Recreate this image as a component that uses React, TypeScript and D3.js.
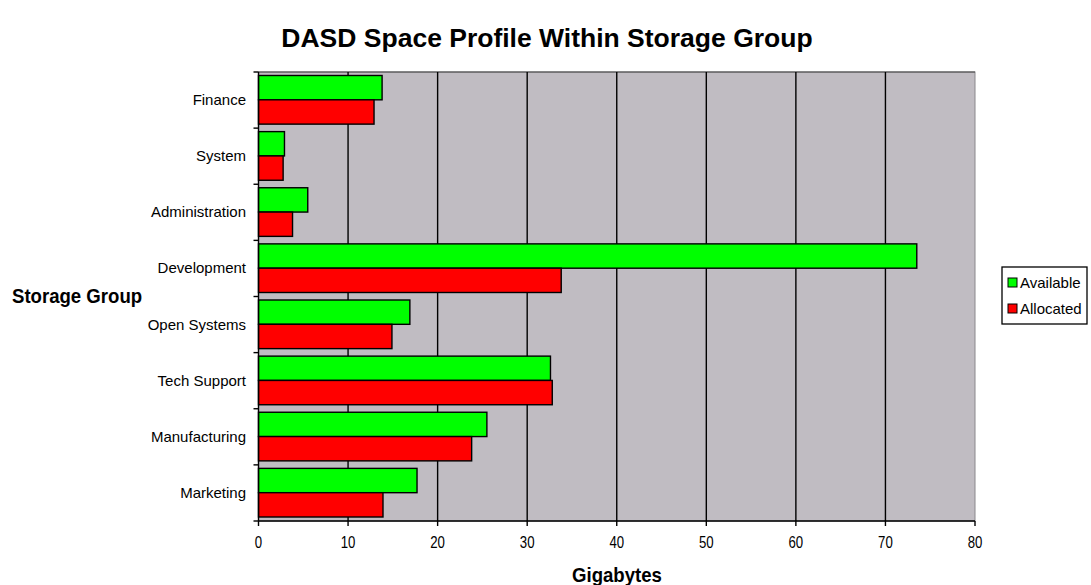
import React from 'react';
import * as d3 from 'd3';

const categories = ['Finance', 'System', 'Administration', 'Development', 'Open Systems', 'Tech Support', 'Manufacturing', 'Marketing'];
const seriesNames = ['Available', 'Allocated'];
const available = [13.8, 2.9, 5.5, 73.5, 16.9, 32.6, 25.5, 17.7];
const allocated = [12.9, 2.75, 3.8, 33.8, 14.9, 32.8, 23.8, 13.9];
const xTicks = [0, 10, 20, 30, 40, 50, 60, 70, 80];
const colors = ['#00ff00', '#ff0000'];

const W = 1091;
const H = 585;
const plot = { left: 258.5, right: 975, top: 72, bottom: 521 };
const sans = '"Liberation Sans", Arial, sans-serif';

const App = () => {
  const x = d3.scaleLinear().domain([0, 80]).range([plot.left, plot.right]);
  const y0 = d3.scaleBand().domain(categories).range([plot.top, plot.bottom]).padding(0);
  const y1 = d3.scaleBand().domain(seriesNames).range([3.5, y0.bandwidth() - 4]).padding(0);
  const values = [available, allocated];

  return (
    <svg width={W} height={H} style={{ position: 'absolute', left: 0, top: 0, background: '#fff' }}>
      <text x={547} y={47} textAnchor="middle" fontFamily={sans} fontWeight="bold" fontSize={26.5}>
        DASD Space Profile Within Storage Group
      </text>

      <rect x={plot.left} y={plot.top} width={plot.right - plot.left} height={plot.bottom - plot.top} fill="#c0bcc2" stroke="#8a888c" strokeWidth={1} />
      <line x1={plot.left} x2={plot.right} y1={plot.top} y2={plot.top} stroke="#444" strokeWidth={1} />

      {xTicks.slice(1, -1).map(t => (
        <line key={'g' + t} x1={x(t)} x2={x(t)} y1={plot.top} y2={plot.bottom} stroke="#000" strokeWidth={1.4} />
      ))}

      {categories.map((c, i) => (
        <g key={c}>
          {values.map((vals, s) => (
            <rect
              key={s}
              x={x(0)}
              y={(y0(c) as number) + (y1(seriesNames[s]) as number)}
              width={x(vals[i]) - x(0)}
              height={y1.bandwidth()}
              fill={colors[s]}
              stroke="#000"
              strokeWidth={1.4}
            />
          ))}
        </g>
      ))}

      {/* y axis */}
      <line x1={plot.left} x2={plot.left} y1={plot.top} y2={plot.bottom} stroke="#000" strokeWidth={1.4} />
      {categories.concat(['']).map((c, i) => {
        const yy = plot.top + i * y0.bandwidth();
        return <line key={'yt' + i} x1={plot.left - 5} x2={plot.left} y1={yy} y2={yy} stroke="#000" strokeWidth={1.4} />;
      })}
      {categories.map(c => (
        <text key={'yl' + c} x={246} y={(y0(c) as number) + y0.bandwidth() / 2 + 5} textAnchor="end" fontFamily={sans} fontSize={15}>
          {c}
        </text>
      ))}

      {/* x axis */}
      <line x1={plot.left} x2={plot.right} y1={plot.bottom} y2={plot.bottom} stroke="#000" strokeWidth={1.4} />
      {xTicks.map(t => (
        <g key={'xt' + t}>
          <line x1={x(t)} x2={x(t)} y1={plot.bottom} y2={plot.bottom + 5} stroke="#000" strokeWidth={1.4} />
          <text transform={`translate(${x(t)},${plot.bottom + 27}) scale(0.8,1)`} textAnchor="middle" fontFamily={sans} fontSize={16.5}>
            {t}
          </text>
        </g>
      ))}

      <text transform="translate(617,582) scale(0.93,1)" textAnchor="middle" fontFamily={sans} fontWeight="bold" fontSize={20}>
        Gigabytes
      </text>
      <text transform="translate(12,303) scale(0.93,1)" fontFamily={sans} fontWeight="bold" fontSize={20}>
        Storage Group
      </text>

      {/* legend */}
      <rect x={1002} y={267} width={85} height={57} fill="#fff" stroke="#000" strokeWidth={1.3} />
      {seriesNames.map((n, i) => (
        <g key={'lg' + n}>
          <rect x={1008} y={278 + i * 26} width={9} height={9} fill={colors[i]} stroke="#000" strokeWidth={1} />
          <text x={1020} y={288 + i * 26} fontFamily={sans} fontSize={15}>
            {n}
          </text>
        </g>
      ))}
    </svg>
  );
};

export default App;
